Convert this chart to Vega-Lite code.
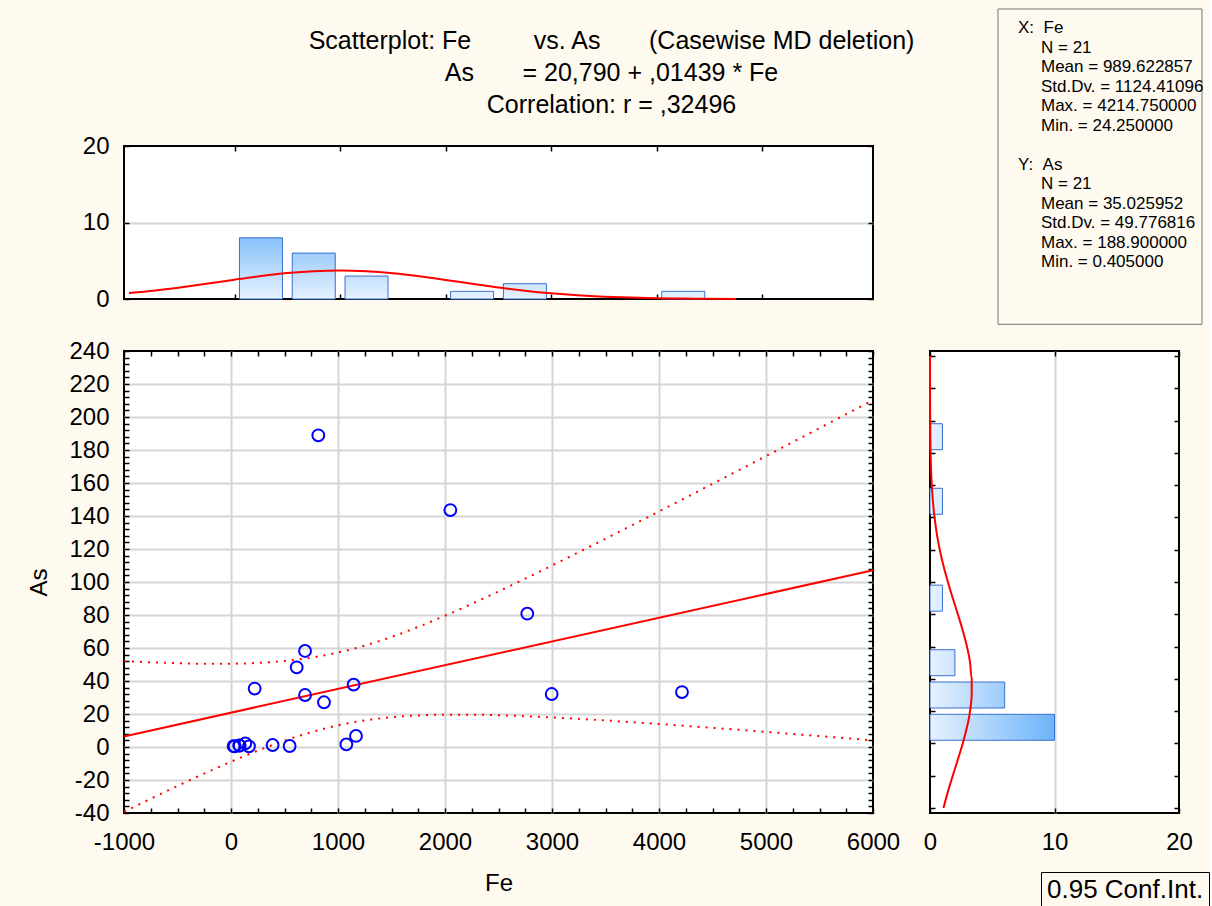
{
  "$schema": "https://vega.github.io/schema/vega-lite/v6.json",
  "background": "#FFFAF0",
  "padding": {"left": 26, "top": 8, "right": 0, "bottom": 0},
  "autosize": {"type": "pad"},
  "config": {
    "font": "Liberation Sans",
    "view": {"stroke": "#000000", "strokeWidth": 2, "fill": "#FFFFFF"},
    "axis": {
      "labelFont": "Liberation Sans", "labelFontSize": 24, "labelColor": "#000000",
      "titleFont": "Liberation Sans", "titleFontSize": 24, "titleFontWeight": "normal", "titleColor": "#000000",
      "domain": false, "ticks": true, "tickColor": "#000000", "tickWidth": 1.5, "tickSize": -5,
      "gridColor": "#D6D6D6", "gridWidth": 2, "labelOverlap": false, "labelFlush": false, "labelBound": false
    }
  },
  "columns": 2,
  "spacing": {"row": 52, "column": 57},
  "bounds": "flush",
  "align": "each",
  "concat": [
    {
      "width": 749, "height": 153,
      "title": {
        "text": ["Scatterplot: Fe\u00a0\u00a0\u00a0\u00a0\u00a0\u00a0\u00a0\u00a0\u00a0vs. As\u00a0\u00a0\u00a0\u00a0\u00a0\u00a0\u00a0(Casewise MD deletion)", "As\u00a0\u00a0\u00a0\u00a0\u00a0\u00a0\u00a0= 20,790 + ,01439 * Fe", "Correlation: r = ,32496"],
        "font": "Liberation Sans", "fontSize": 25, "fontWeight": "normal", "color": "#000000",
        "lineHeight": 32, "anchor": "middle", "frame": "group", "dx": 113, "offset": 16
      },
      "resolve": {"axis": {"x": "independent", "y": "independent"}},
      "layer": [
        {
          "data": {"values": [
            {"Fe_mid": 250, "count": 8}, {"Fe_mid": 750, "count": 6}, {"Fe_mid": 1250, "count": 3},
            {"Fe_mid": 2250, "count": 1}, {"Fe_mid": 2750, "count": 2}, {"Fe_mid": 4250, "count": 1}
          ]},
          "mark": {"type": "bar", "size": 43, "stroke": "#3A6FD0", "strokeWidth": 1},
          "encoding": {
            "x": {"field": "Fe_mid", "type": "quantitative", "scale": {"domain": [-1000, 6000], "nice": false, "zero": false},
                  "axis": {"orient": "bottom", "values": [0, 1000, 2000, 3000, 4000, 5000], "labels": false, "grid": false, "title": null}},
            "y": {"field": "count", "type": "quantitative", "scale": {"domain": [0, 20], "nice": false},
                  "axis": {"orient": "left", "values": [0, 10, 20], "labelExpr": "'' + datum.value", "labelPadding": 20, "grid": true,
                           "gridOpacity": {"condition": {"test": "datum.value === 10", "value": 1}, "value": 0}, "title": null}},
            "fill": {
              "condition": [
                {"test": "datum.count >= 8", "value": {"gradient": "linear", "x1": 0, "y1": 0, "x2": 0, "y2": 1, "stops": [{"offset": 0, "color": "#86C1F9"}, {"offset": 1, "color": "#E6F2FF"}]}},
                {"test": "datum.count >= 6", "value": {"gradient": "linear", "x1": 0, "y1": 0, "x2": 0, "y2": 1, "stops": [{"offset": 0, "color": "#9ECDFA"}, {"offset": 1, "color": "#E6F2FF"}]}},
                {"test": "datum.count >= 3", "value": {"gradient": "linear", "x1": 0, "y1": 0, "x2": 0, "y2": 1, "stops": [{"offset": 0, "color": "#C2E0FD"}, {"offset": 1, "color": "#E6F2FF"}]}},
                {"test": "datum.count >= 2", "value": {"gradient": "linear", "x1": 0, "y1": 0, "x2": 0, "y2": 1, "stops": [{"offset": 0, "color": "#CEE6FD"}, {"offset": 1, "color": "#E6F2FF"}]}}
              ],
              "value": {"gradient": "linear", "x1": 0, "y1": 0, "x2": 0, "y2": 1, "stops": [{"offset": 0, "color": "#DAECFE"}, {"offset": 1, "color": "#E6F2FF"}]}
            }
          }
        },
        {
          "data": {"values": [
            {"Fe": -1000, "density": 0.7785}, {"Fe": -750, "density": 1.1257}, {"Fe": -500, "density": 1.5490}, {"Fe": -250, "density": 2.0289},
            {"Fe": 0, "density": 2.5292}, {"Fe": 250, "density": 3.0008}, {"Fe": 500, "density": 3.3884}, {"Fe": 750, "density": 3.6418},
            {"Fe": 1000, "density": 3.7252}, {"Fe": 1250, "density": 3.6268}, {"Fe": 1500, "density": 3.3607}, {"Fe": 1750, "density": 2.9640},
            {"Fe": 2000, "density": 2.4880}, {"Fe": 2250, "density": 1.9877}, {"Fe": 2500, "density": 1.5113}, {"Fe": 2750, "density": 1.0938},
            {"Fe": 3000, "density": 0.7534}, {"Fe": 3250, "density": 0.4938}, {"Fe": 3500, "density": 0.3081}, {"Fe": 3750, "density": 0.1829},
            {"Fe": 4000, "density": 0.1034}, {"Fe": 4250, "density": 0.0557}, {"Fe": 4500, "density": 0.0285}, {"Fe": 4750, "density": 0.0139}
          ]},
          "mark": {"type": "line", "color": "#FF0000", "strokeWidth": 2, "interpolate": "monotone"},
          "encoding": {
            "x": {"field": "Fe", "type": "quantitative", "scale": {"domain": [-1000, 6000], "nice": false, "zero": false},
                  "axis": {"orient": "top", "values": [0, 1000, 2000, 3000, 4000, 5000], "labels": false, "grid": false, "title": null}},
            "y": {"field": "density", "type": "quantitative", "scale": {"domain": [0, 20], "nice": false},
                  "axis": {"orient": "right", "values": [0, 10, 20], "labels": false, "grid": false, "title": null}}
          }
        }
      ]
    },
    {
      "width": 272, "height": 153,
      "view": {"stroke": null, "fill": null},
      "layer": [
        {
          "data": {"values": [{}]},
          "mark": {"type": "rect", "fill": null, "stroke": "#777777", "strokeWidth": 1},
          "encoding": {
            "x": {"datum": -0.870, "type": "quantitative", "scale": {"domain": [-3.826, 8.0], "nice": false, "zero": false}, "axis": null},
            "x2": {"datum": 8.0},
            "y": {"datum": -0.975, "type": "quantitative", "scale": {"domain": [6.051, 13.897], "nice": false, "zero": false, "reverse": true}, "axis": null},
            "y2": {"datum": 15.195}
          }
        },
        {
          "data": {"values": [
            {"k": 0, "lvl": 0, "t": "X:\u00a0\u00a0Fe"},
            {"k": 1, "lvl": 1, "t": "N = 21"},
            {"k": 2, "lvl": 1, "t": "Mean = 989.622857"},
            {"k": 3, "lvl": 1, "t": "Std.Dv. = 1124.41096"},
            {"k": 4, "lvl": 1, "t": "Max. = 4214.750000"},
            {"k": 5, "lvl": 1, "t": "Min. = 24.250000"},
            {"k": 7, "lvl": 0, "t": "Y:\u00a0\u00a0As"},
            {"k": 8, "lvl": 1, "t": "N = 21"},
            {"k": 9, "lvl": 1, "t": "Mean = 35.025952"},
            {"k": 10, "lvl": 1, "t": "Std.Dv. = 49.776816"},
            {"k": 11, "lvl": 1, "t": "Max. = 188.900000"},
            {"k": 12, "lvl": 1, "t": "Min. = 0.405000"}
          ]},
          "mark": {"type": "text", "align": "left", "baseline": "middle", "font": "Liberation Sans", "fontSize": 17, "color": "#000000"},
          "encoding": {
            "x": {"field": "lvl", "type": "quantitative", "scale": {"domain": [-3.826, 8.0], "nice": false, "zero": false}, "axis": null},
            "y": {"field": "k", "type": "quantitative", "scale": {"domain": [6.051, 13.897], "nice": false, "zero": false, "reverse": true}, "axis": null},
            "text": {"field": "t", "type": "nominal"}
          }
        }
      ]
    },
    {
      "width": 749, "height": 462,
      "resolve": {"axis": {"x": "independent", "y": "independent"}},
      "layer": [
        {
          "data": {"name": "ci", "values": [
            {"Fe": -1000, "lower": -39.28, "upper": 52.08}, {"Fe": -750, "lower": -31.35, "upper": 51.35},
            {"Fe": -500, "lower": -23.60, "upper": 50.79}, {"Fe": -250, "lower": -16.09, "upper": 50.47},
            {"Fe": 0, "lower": -8.92, "upper": 50.50}, {"Fe": 250, "lower": -2.21, "upper": 50.99},
            {"Fe": 500, "lower": 3.83, "upper": 52.14}, {"Fe": 750, "lower": 9.00, "upper": 54.16},
            {"Fe": 1000, "lower": 13.12, "upper": 57.24}, {"Fe": 1250, "lower": 16.11, "upper": 61.45},
            {"Fe": 1500, "lower": 18.05, "upper": 66.70}, {"Fe": 1750, "lower": 19.13, "upper": 72.81},
            {"Fe": 2000, "lower": 19.58, "upper": 79.56}, {"Fe": 2250, "lower": 19.58, "upper": 86.76},
            {"Fe": 2500, "lower": 19.24, "upper": 94.30}, {"Fe": 2750, "lower": 18.66, "upper": 102.06},
            {"Fe": 3000, "lower": 17.92, "upper": 110.00}, {"Fe": 3250, "lower": 17.05, "upper": 118.07},
            {"Fe": 3500, "lower": 16.08, "upper": 126.23}, {"Fe": 3750, "lower": 15.03, "upper": 134.47},
            {"Fe": 4000, "lower": 13.94, "upper": 142.76}, {"Fe": 4250, "lower": 12.79, "upper": 151.11},
            {"Fe": 4500, "lower": 11.61, "upper": 159.48}, {"Fe": 4750, "lower": 10.39, "upper": 167.89},
            {"Fe": 5000, "lower": 9.16, "upper": 176.32}, {"Fe": 5250, "lower": 7.90, "upper": 184.78},
            {"Fe": 5500, "lower": 6.62, "upper": 193.25}, {"Fe": 5750, "lower": 5.32, "upper": 201.74},
            {"Fe": 6000, "lower": 4.02, "upper": 210.24}
          ]},
          "mark": {"type": "line", "strokeWidth": 2, "strokeDash": [2, 6], "interpolate": "monotone"},
          "encoding": {
            "x": {"field": "Fe", "type": "quantitative", "scale": {"domain": [-1000, 6000], "nice": false, "zero": false},
                  "axis": {"orient": "bottom",
                           "values": [-1000,-750,-500,-250,0,250,500,750,1000,1250,1500,1750,2000,2250,2500,2750,3000,3250,3500,3750,4000,4250,4500,4750,5000,5250,5500,5750,6000],
                           "labelExpr": "datum.value % 1000 === 0 ? '' + datum.value : ''",
                           "grid": true,
                           "gridOpacity": {"condition": {"test": "datum.value % 1000 === 0 && datum.value > -1000 && datum.value < 6000", "value": 1}, "value": 0},
                           "labelPadding": 22, "title": "Fe", "titleY": 70, "titleBaseline": "middle"}},
            "y": {"field": "upper", "type": "quantitative", "scale": {"domain": [-40, 240], "nice": false, "zero": false},
                  "axis": {"orient": "left",
                           "values": [-40,-36,-32,-28,-24,-20,-16,-12,-8,-4,0,4,8,12,16,20,24,28,32,36,40,44,48,52,56,60,64,68,72,76,80,84,88,92,96,100,104,108,112,116,120,124,128,132,136,140,144,148,152,156,160,164,168,172,176,180,184,188,192,196,200,204,208,212,216,220,224,228,232,236,240],
                           "labelExpr": "datum.value % 20 === 0 ? '' + datum.value : ''",
                           "grid": true,
                           "gridOpacity": {"condition": {"test": "datum.value % 20 === 0 && datum.value > -40 && datum.value < 240", "value": 1}, "value": 0},
                           "labelPadding": 20, "title": "As", "titleX": -85, "titleY": 231, "titleAngle": 270, "titleBaseline": "middle"}},
            "color": {"datum": "0.95 Conf.Int.", "type": "nominal", "scale": {"range": ["#FF0000"]},
                      "legend": {"title": null, "orient": "none", "legendX": 917, "legendY": 726, "strokeColor": "#000000", "padding": 5,
                                 "labelFontSize": 26, "labelFont": "Liberation Sans", "labelColor": "#000000",
                                 "symbolSize": 0, "symbolOpacity": 0, "symbolStrokeWidth": 0, "labelOffset": -25}}
          }
        },
        {
          "data": {"name": "ci"},
          "mark": {"type": "line", "strokeWidth": 2, "strokeDash": [2, 6], "interpolate": "monotone"},
          "encoding": {
            "x": {"field": "Fe", "type": "quantitative", "scale": {"domain": [-1000, 6000], "nice": false, "zero": false},
                  "axis": {"orient": "top",
                           "values": [-1000,-750,-500,-250,0,250,500,750,1000,1250,1500,1750,2000,2250,2500,2750,3000,3250,3500,3750,4000,4250,4500,4750,5000,5250,5500,5750,6000],
                           "labels": false, "grid": false, "title": null}},
            "y": {"field": "lower", "type": "quantitative", "scale": {"domain": [-40, 240], "nice": false, "zero": false},
                  "axis": {"orient": "right",
                           "values": [-40,-36,-32,-28,-24,-20,-16,-12,-8,-4,0,4,8,12,16,20,24,28,32,36,40,44,48,52,56,60,64,68,72,76,80,84,88,92,96,100,104,108,112,116,120,124,128,132,136,140,144,148,152,156,160,164,168,172,176,180,184,188,192,196,200,204,208,212,216,220,224,228,232,236,240],
                           "labels": false, "grid": false, "title": null}},
            "color": {"datum": "0.95 Conf.Int.", "type": "nominal"}
          }
        },
        {
          "data": {"values": [{"Fe": -1000, "fit": 6.40}, {"Fe": 6000, "fit": 107.13}]},
          "mark": {"type": "line", "color": "#FF0000", "strokeWidth": 2},
          "encoding": {
            "x": {"field": "Fe", "type": "quantitative", "scale": {"domain": [-1000, 6000], "nice": false, "zero": false}, "axis": null},
            "y": {"field": "fit", "type": "quantitative", "scale": {"domain": [-40, 240], "nice": false, "zero": false}, "axis": null}
          }
        },
        {
          "data": {"values": [
            {"Fe": 816, "As": 188.9}, {"Fe": 2050, "As": 143.6}, {"Fe": 2769, "As": 80.8}, {"Fe": 2997, "As": 32.1},
            {"Fe": 4214.75, "As": 33.3}, {"Fe": 692, "As": 58.2}, {"Fe": 614, "As": 48.3}, {"Fe": 221, "As": 35.4},
            {"Fe": 692, "As": 31.5}, {"Fe": 869, "As": 27.1}, {"Fe": 1146, "As": 37.8}, {"Fe": 1168, "As": 6.7},
            {"Fe": 1078, "As": 1.6}, {"Fe": 548, "As": 0.6}, {"Fe": 389, "As": 1.2}, {"Fe": 168, "As": 0.4},
            {"Fe": 134, "As": 2.2}, {"Fe": 81, "As": 0.8}, {"Fe": 34, "As": 0.405}, {"Fe": 24.25, "As": 0.5},
            {"Fe": 77, "As": 0.9}
          ]},
          "mark": {"type": "point", "shape": "circle", "filled": false, "stroke": "#0000FF", "strokeWidth": 2, "size": 140, "opacity": 1},
          "encoding": {
            "x": {"field": "Fe", "type": "quantitative", "scale": {"domain": [-1000, 6000], "nice": false, "zero": false}, "axis": null},
            "y": {"field": "As", "type": "quantitative", "scale": {"domain": [-40, 240], "nice": false, "zero": false}, "axis": null}
          }
        }
      ]
    },
    {
      "width": 249, "height": 462,
      "resolve": {"axis": {"x": "independent", "y": "independent"}},
      "layer": [
        {
          "data": {"values": [
            {"As_mid": 10, "count": 10}, {"As_mid": 30, "count": 6}, {"As_mid": 50, "count": 2},
            {"As_mid": 90, "count": 1}, {"As_mid": 150, "count": 1}, {"As_mid": 190, "count": 1}
          ]},
          "mark": {"type": "bar", "orient": "horizontal", "size": 26, "stroke": "#3A6FD0", "strokeWidth": 1},
          "encoding": {
            "x": {"field": "count", "type": "quantitative", "scale": {"domain": [0, 20], "nice": false},
                  "axis": {"orient": "bottom", "values": [0, 10, 20], "labelExpr": "'' + datum.value", "labelPadding": 22, "grid": true,
                           "gridOpacity": {"condition": {"test": "datum.value === 10", "value": 1}, "value": 0}, "title": null}},
            "y": {"field": "As_mid", "type": "quantitative", "scale": {"domain": [-40, 240], "nice": false, "zero": false},
                  "axis": {"orient": "left", "values": [-40,-20,0,20,40,60,80,100,120,140,160,180,200,220,240], "labels": false, "grid": false, "title": null}},
            "fill": {
              "condition": [
                {"test": "datum.count >= 10", "value": {"gradient": "linear", "x1": 0, "y1": 0, "x2": 1, "y2": 0, "stops": [{"offset": 0, "color": "#E6F2FF"}, {"offset": 1, "color": "#6CB3F8"}]}},
                {"test": "datum.count >= 6", "value": {"gradient": "linear", "x1": 0, "y1": 0, "x2": 1, "y2": 0, "stops": [{"offset": 0, "color": "#E6F2FF"}, {"offset": 1, "color": "#9DCCFB"}]}},
                {"test": "datum.count >= 2", "value": {"gradient": "linear", "x1": 0, "y1": 0, "x2": 1, "y2": 0, "stops": [{"offset": 0, "color": "#E6F2FF"}, {"offset": 1, "color": "#CEE5FE"}]}}
              ],
              "value": {"gradient": "linear", "x1": 0, "y1": 0, "x2": 1, "y2": 0, "stops": [{"offset": 0, "color": "#E6F2FF"}, {"offset": 1, "color": "#DAECFE"}]}
            }
          }
        },
        {
          "data": {"values": [
            {"As": -40, "density": 1.0810}, {"As": -30, "density": 1.4340}, {"As": -20, "density": 1.8272}, {"As": -10, "density": 2.2360},
            {"As": 0, "density": 2.6279}, {"As": 10, "density": 2.9665}, {"As": 20, "density": 3.2162}, {"As": 30, "density": 3.3490},
            {"As": 40, "density": 3.3493}, {"As": 50, "density": 3.2172}, {"As": 60, "density": 2.9680}, {"As": 70, "density": 2.6298},
            {"As": 80, "density": 2.2381}, {"As": 90, "density": 1.8293}, {"As": 100, "density": 1.4360}, {"As": 110, "density": 1.0827},
            {"As": 120, "density": 0.7841}, {"As": 130, "density": 0.5453}, {"As": 140, "density": 0.3642}, {"As": 150, "density": 0.2336},
            {"As": 160, "density": 0.1440}, {"As": 170, "density": 0.0852}, {"As": 180, "density": 0.0484}, {"As": 190, "density": 0.0265},
            {"As": 200, "density": 0.0139}, {"As": 210, "density": 0.0070}, {"As": 220, "density": 0.0034}, {"As": 230, "density": 0.0016},
            {"As": 240, "density": 0.0007}
          ]},
          "mark": {"type": "line", "color": "#FF0000", "strokeWidth": 2, "interpolate": "monotone"},
          "encoding": {
            "x": {"field": "density", "type": "quantitative", "scale": {"domain": [0, 20], "nice": false},
                  "axis": {"orient": "top", "values": [0, 10, 20], "labels": false, "grid": false, "title": null}},
            "y": {"field": "As", "type": "quantitative", "scale": {"domain": [-40, 240], "nice": false, "zero": false},
                  "axis": {"orient": "right", "values": [-40,-20,0,20,40,60,80,100,120,140,160,180,200,220,240], "labels": false, "grid": false, "title": null}},
            "order": {"field": "As", "type": "quantitative"}
          }
        }
      ]
    }
  ]
}
